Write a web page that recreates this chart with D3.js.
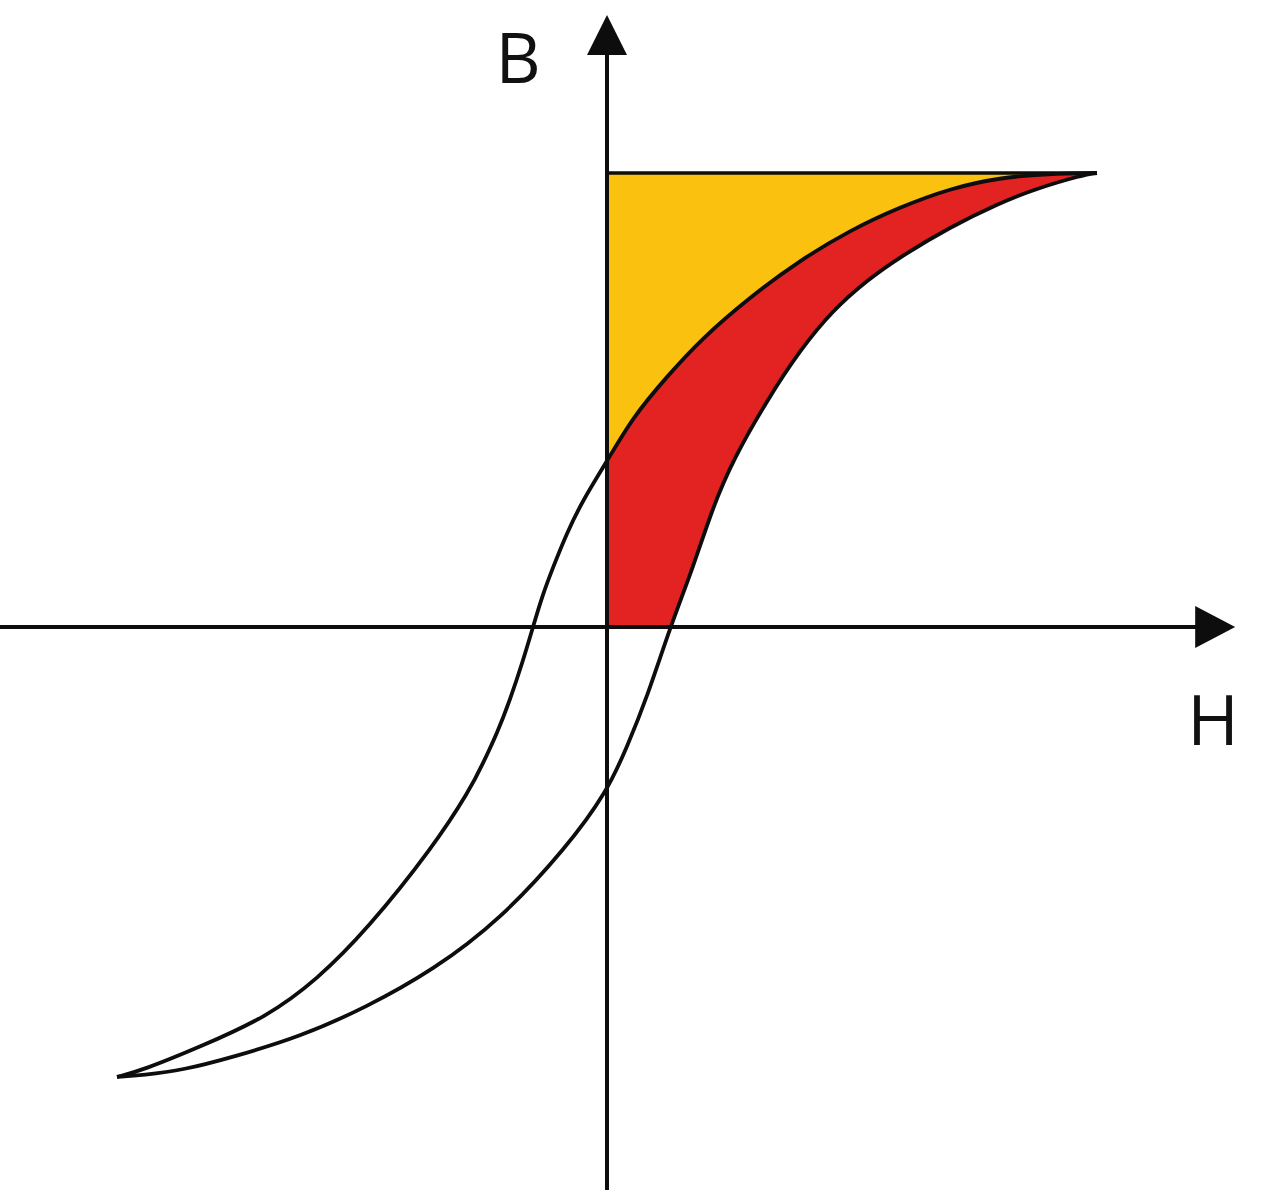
<!DOCTYPE html>
<html>
<head>
<meta charset="utf-8">
<script src="https://cdn.jsdelivr.net/npm/d3@7"></script>
<style>
  html, body { margin: 0; padding: 0; background: #fff; }
  svg { display: block; }
  .label { font-family: "Open Sans", "Noto Sans", sans-serif; font-size: 70px; fill: #111; }
</style>
</head>
<body>
<div id="chart"></div>
<script>
/* Hysteresis loop — B over H, with the stored (yellow) and lost (red) energy shaded. */

// descending branch, from +saturation down to -saturation  [H, B]
var upperBranch = [
  [1, 1], [0.9, 0.998], [0.802, 0.99], [0.7, 0.966], [0.598, 0.925],
  [0.496, 0.874], [0.394, 0.808], [0.292, 0.727], [0.19, 0.632],
  [0.122, 0.551], [0.053, 0.463], [0, 0.365], [-0.049, 0.28],
  [-0.082, 0.207], [-0.11, 0.132], [-0.133, 0.066], [-0.151, 0],
  [-0.171, -0.073], [-0.198, -0.161], [-0.224, -0.233], [-0.253, -0.3],
  [-0.28, -0.359], [-0.355, -0.485], [-0.49, -0.667], [-0.592, -0.777],
  [-0.694, -0.859], [-0.831, -0.925], [-0.947, -0.976], [-1, -0.991]
];

// ascending branch, from -saturation back up to +saturation  [H, B]
var lowerBranch = [
  [-1, -0.991], [-0.947, -0.987], [-0.865, -0.976], [-0.763, -0.947],
  [-0.627, -0.903], [-0.49, -0.837], [-0.355, -0.756], [-0.218, -0.645],
  [-0.082, -0.485], [0, -0.363], [0.041, -0.264], [0.082, -0.154],
  [0.129, 0], [0.176, 0.132], [0.216, 0.264], [0.257, 0.368], [0.327, 0.5],
  [0.394, 0.61], [0.461, 0.698], [0.531, 0.764], [0.598, 0.815],
  [0.7, 0.881], [0.802, 0.934], [0.869, 0.963], [0.971, 0.996], [1, 1]
];

var saturationB = 1;          // top edge of the yellow area
var hAxisExtent = [-1.24, 1.282];
var bAxisExtent = [-1.245, 1.348];
var axisLabels = { h: "H", b: "B" };

var width = 1280, height = 1190;
var yellow = "#fbc10f", red = "#e22322", ink = "#0d0d0d";

var x = d3.scaleLinear().domain([-1, 1]).range([117, 1097]);
var y = d3.scaleLinear().domain([-1, 1]).range([1081, 173]);

var svg = d3.select("#chart").append("svg")
  .attr("width", width).attr("height", height);

var line = d3.line()
  .x(function (d) { return x(d[0]); })
  .y(function (d) { return y(d[1]); })
  .curve(d3.curveBasis);

var upperD = line(upperBranch);
var lowerD = line(lowerBranch);

var defs = svg.append("defs");
// right half-plane (H >= 0)
defs.append("clipPath").attr("id", "clip-right")
  .append("rect")
  .attr("x", x(0)).attr("y", 0)
  .attr("width", width - x(0)).attr("height", height);
// first quadrant (H >= 0, B >= 0)
defs.append("clipPath").attr("id", "clip-q1")
  .append("rect")
  .attr("x", x(0)).attr("y", 0)
  .attr("width", width - x(0)).attr("height", y(0));

// yellow: left of the descending branch, under B = Bsat, H >= 0
var yellowD = upperD +
  "L" + x(hAxisExtent[0]) + "," + y(-1) +
  "L" + x(hAxisExtent[0]) + "," + y(saturationB) + "Z";
svg.append("path")
  .attr("d", yellowD)
  .attr("fill", yellow)
  .attr("clip-path", "url(#clip-right)");

// red: inside the loop, first quadrant
var loopD = upperD + lowerD.replace(/^M/, "L") + "Z";
svg.append("path")
  .attr("d", loopD)
  .attr("fill", red)
  .attr("clip-path", "url(#clip-q1)");

// saturation line
svg.append("line")
  .attr("x1", x(0)).attr("x2", x(1))
  .attr("y1", y(saturationB)).attr("y2", y(saturationB))
  .attr("stroke", ink).attr("stroke-width", 3.5);

// axes
svg.append("line")
  .attr("x1", x(hAxisExtent[0])).attr("x2", x(hAxisExtent[1]) - 20)
  .attr("y1", y(0)).attr("y2", y(0))
  .attr("stroke", ink).attr("stroke-width", 4);
svg.append("line")
  .attr("x1", x(0)).attr("x2", x(0))
  .attr("y1", y(bAxisExtent[0])).attr("y2", y(bAxisExtent[1]) + 20)
  .attr("stroke", ink).attr("stroke-width", 4);

// arrow heads
var ax = x(hAxisExtent[1]), ay = y(0);
svg.append("path")
  .attr("d", "M" + ax + "," + ay + "L" + (ax - 40) + "," + (ay - 21) + "L" + (ax - 40) + "," + (ay + 21) + "Z")
  .attr("fill", ink);
var bx = x(0), by = y(bAxisExtent[1]);
svg.append("path")
  .attr("d", "M" + bx + "," + by + "L" + (bx - 20) + "," + (by + 40) + "L" + (bx + 20) + "," + (by + 40) + "Z")
  .attr("fill", ink);

// loop branches
[upperD, lowerD].forEach(function (d) {
  svg.append("path")
    .attr("d", d)
    .attr("fill", "none")
    .attr("stroke", ink)
    .attr("stroke-width", 3.8)
    .attr("stroke-linejoin", "round");
});

// labels
svg.append("text").attr("class", "label")
  .attr("x", x(0) - 89).attr("y", by + 68)
  .attr("text-anchor", "middle")
  .text(axisLabels.b);
svg.append("text").attr("class", "label")
  .attr("x", ax - 22).attr("y", ay + 118)
  .attr("text-anchor", "middle")
  .text(axisLabels.h);
</script>
</body>
</html>
